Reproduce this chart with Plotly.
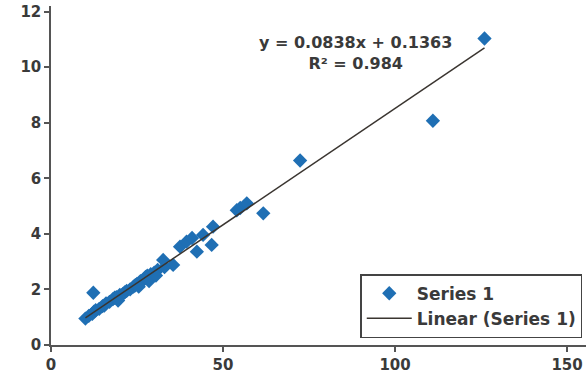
import plotly.graph_objects as go

# Series 1 data
x_vals = [10, 11, 12, 12.5, 13, 14, 15, 15.5, 16, 17, 18, 18.5, 19, 20, 21, 21.5,
          22, 23, 24, 24.5, 25, 26, 27, 27.5, 28, 29, 30, 31, 32.6, 35.5, 37.5,
          39.4, 42.4, 44.2, 46.7, 47.1, 55, 56.9, 61.7, 72.4, 111, 126, 12.3,
          28.5, 30.5, 33, 54, 41, 25.5, 19.5]
y_vals = [0.95, 1.05, 1.12, 1.2, 1.25, 1.3, 1.4, 1.42, 1.5, 1.55, 1.65, 1.7, 1.72,
          1.8, 1.85, 1.9, 1.95, 2.0, 2.1, 2.15, 2.2, 2.3, 2.35, 2.45, 2.5, 2.55,
          2.6, 2.7, 3.06, 2.88, 3.54, 3.72, 3.36, 3.96, 3.6, 4.26, 4.93, 5.1,
          4.74, 6.64, 8.07, 11.03, 1.88, 2.3, 2.5, 2.8, 4.85, 3.85, 2.1, 1.6]

slope = 0.0838
intercept = 0.1363
r2 = 0.984

x_ticks = [0, 50, 100, 150]
y_ticks = [0, 2, 4, 6, 8, 10, 12]

trend_x = [min(x_vals), max(x_vals)]
trend_y = [slope * v + intercept for v in trend_x]

FONT = "DejaVu Sans"
TXT = "#3a3a3a"

fig = go.Figure()
fig.add_trace(go.Scatter(
    x=x_vals, y=y_vals, mode="markers", name="Series 1",
    marker=dict(symbol="diamond", size=11, color="#1f6fb4", line=dict(width=0)),
))
fig.add_trace(go.Scatter(
    x=trend_x, y=trend_y, mode="lines", name="Linear (Series 1)",
    line=dict(color="#3a3530", width=1.5),
))

fig.add_annotation(
    x=0.57, y=0.925, xref="paper", yref="paper", showarrow=False,
    text=f"<b>y = {slope}x + {intercept}</b><br><b>R² = {r2}</b>",
    font=dict(family=FONT, size=16, color=TXT), align="center",
    xanchor="center", yanchor="top",
)

fig.update_layout(
    width=586, height=378,
    margin=dict(l=51, r=0, t=6, b=33),
    paper_bgcolor="white", plot_bgcolor="white",
    font=dict(family=FONT, size=15, color=TXT, weight="bold"),
    showlegend=True,
    legend=dict(
        x=0.993, y=0.02, xanchor="right", yanchor="bottom",
        bordercolor="#444444", borderwidth=1.5, bgcolor="white",
        font=dict(family=FONT, size=17, color=TXT, weight="bold"),
        itemwidth=45, tracegroupgap=0,
    ),
)
fig.update_xaxes(
    range=[0, 155.5], tickvals=x_ticks, showgrid=False, zeroline=False,
    showline=True, linecolor="#555555", linewidth=1.5,
    ticks="outside", ticklen=5, tickcolor="#555555", tickwidth=1.5,
    tickfont=dict(family=FONT, size=15, color=TXT, weight="bold"),
)
fig.update_yaxes(
    range=[0, 12.2], tickvals=y_ticks, showgrid=False, zeroline=False,
    showline=True, linecolor="#555555", linewidth=1.5,
    ticks="outside", ticklen=5, tickcolor="#555555", tickwidth=1.5,
    tickfont=dict(family=FONT, size=15, color=TXT, weight="bold"),
)

fig.write_html("out.html")
